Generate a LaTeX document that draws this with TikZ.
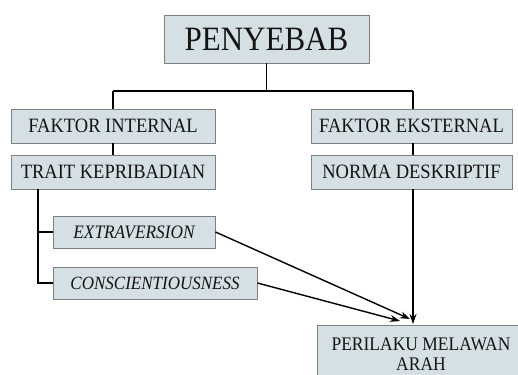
\documentclass[tikz,border=0pt]{standalone}
\usepackage{fontspec}
\usepackage{graphicx}
\setmainfont{Liberation Serif}
\usetikzlibrary{arrows.meta}
\definecolor{boxfill}{HTML}{D5E0E5}
\definecolor{boxline}{HTML}{7F7F7F}
\definecolor{txt}{HTML}{141414}
\newcommand{\vst}[1]{\scalebox{1}[1.1]{#1}}
\tikzset{
  box/.style={draw=boxline, fill=boxfill, line width=0.9pt, inner sep=0pt, text=txt, align=center},
  conn/.style={line width=1.4pt, black},
  arr/.style={conn, -{Stealth[length=10pt,width=7pt]}},
}
\begin{document}
\begin{tikzpicture}[x=1pt,y=-1pt]
\useasboundingbox (0,0) rectangle (518,374);
\node[box, minimum width=205pt, minimum height=48pt, font=\fontsize{31}{33}\selectfont] (pen) at (266.5,39) {\vst{PENYEBAB}};
\node[box, minimum width=204pt, minimum height=34pt, font=\fontsize{18.5}{20}\selectfont] (fi) at (113,126) {\vst{FAKTOR INTERNAL}};
\node[box, minimum width=204pt, minimum height=34pt, font=\fontsize{18.5}{20}\selectfont] (tk) at (113,172) {\vst{TRAIT KEPRIBADIAN}};
\node[box, minimum width=201pt, minimum height=34pt, font=\fontsize{18.5}{20}\selectfont] (fe) at (411.5,126) {\vst{FAKTOR EKSTERNAL}};
\node[box, minimum width=201pt, minimum height=34pt, font=\fontsize{18.5}{20}\selectfont] (nd) at (411.5,172) {\vst{NORMA DESKRIPTIF}};
\node[box, minimum width=162pt, minimum height=32pt, font=\fontsize{17.3}{19}\selectfont\itshape] (ext) at (134,232) {\vst{EXTRAVERSION}};
\node[box, minimum width=204pt, minimum height=32pt, font=\fontsize{17}{19}\selectfont\itshape] (con) at (155,283) {\vst{CONSCIENTIOUSNESS}};
\node[box, minimum width=208pt, minimum height=58pt, font=\fontsize{17.5}{20.5}\selectfont] (per) at (421,354) {\vst{PERILAKU MELAWAN}\\\vst{ARAH}};
\coordinate (j) at (266.5,91);
\coordinate (jl) at (113,91);
\coordinate (jr) at (413,91);
\coordinate (tkl) at (38,189);
\coordinate (tipA) at (410,319);
\coordinate (tipB) at (400,321);
\coordinate (tipC) at (413,324);
\draw[conn] (pen.south) -- (j);
\draw[conn] (jl) -- (jr);
\draw[conn] (jl) -- (fi.north);
\draw[conn] (jr) -- (jr |- fe.north);
\draw[conn] (fi.south) -- (tk.north);
\draw[conn] (jr |- fe.south) -- (jr |- nd.north);
\draw[conn] (tkl) -- (38,283) -- (con.west);
\draw[conn] (38,232) -- (ext.west);
\draw[arr] (ext.east) -- (tipA);
\draw[arr] (con.east) -- (tipB);
\draw[arr] (jr |- nd.south) -- (tipC);
\end{tikzpicture}
\end{document}
